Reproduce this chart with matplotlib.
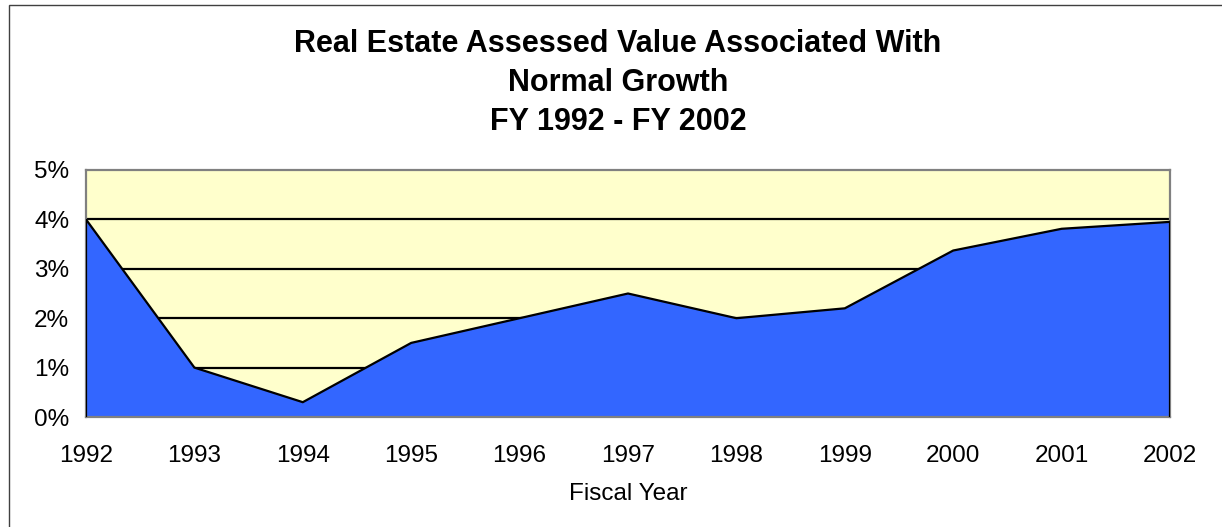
import matplotlib
matplotlib.use("Agg")
import matplotlib.pyplot as plt
from matplotlib.patches import Rectangle

plt.rcParams['font.family'] = ['Liberation Sans', 'DejaVu Sans']

years = [1992, 1993, 1994, 1995, 1996, 1997, 1998, 1999, 2000, 2001, 2002]
growth = [4.0, 1.0, 0.3, 1.5, 2.0, 2.5, 2.0, 2.2, 3.37, 3.81, 3.95]
y_ticks = [0, 1, 2, 3, 4, 5]
y_labels = ['0%', '1%', '2%', '3%', '4%', '5%']
title_lines = ["Real Estate Assessed Value Associated With", "Normal Growth", "FY 1992 - FY 2002"]
x_label = "Fiscal Year"

W, H = 1222, 527
fig = plt.figure(figsize=(W / 100, H / 100), dpi=100)
fig.patch.set_facecolor('white')

# outer frame (extends beyond right/bottom edges)
fig.patches.append(Rectangle((8.5 / W, -0.1), 1.2, (H - 4.5) / H + 0.1,
                             transform=fig.transFigure, fill=False,
                             edgecolor='#404040', linewidth=1.0, zorder=0))

ax = fig.add_axes([86 / W, (H - 417) / H, (1170 - 86) / W, (417 - 170) / H])
ax.set_facecolor('#FFFFCC')
ax.set_xlim(years[0], years[-1])
ax.set_ylim(0, 5)

for yv in y_ticks[1:-1]:
    ax.axhline(yv, color='black', linewidth=1.6, zorder=1)

ax.fill_between(years, growth, 0, facecolor='#3366FF', edgecolor='none', zorder=2)
xs = [years[0]] + years + [years[-1]]
ys = [0] + growth + [0]
ax.plot(xs, ys, color='black', linewidth=1.6, zorder=3, solid_joinstyle='miter')

ax.set_xticks(years)
ax.set_xticklabels([str(y) for y in years], fontsize=17.5)
ax.set_yticks(y_ticks)
ax.set_yticklabels(y_labels, fontsize=17.5)
ax.tick_params(axis='both', length=0)
ax.tick_params(axis='x', pad=20)
ax.tick_params(axis='y', pad=12)

for sp in ax.spines.values():
    sp.set_color('#808080')
    sp.set_linewidth(1.6)
    sp.set_zorder(2.5)

ax.set_xlabel(x_label, fontsize=17.5, labelpad=12)

for line, yb in zip(title_lines, [52, 91, 130]):
    fig.text(618 / W, 1 - yb / H, line, ha='center', va='baseline',
             fontsize=22, fontweight='bold')

fig.savefig('out.png', dpi=100)
